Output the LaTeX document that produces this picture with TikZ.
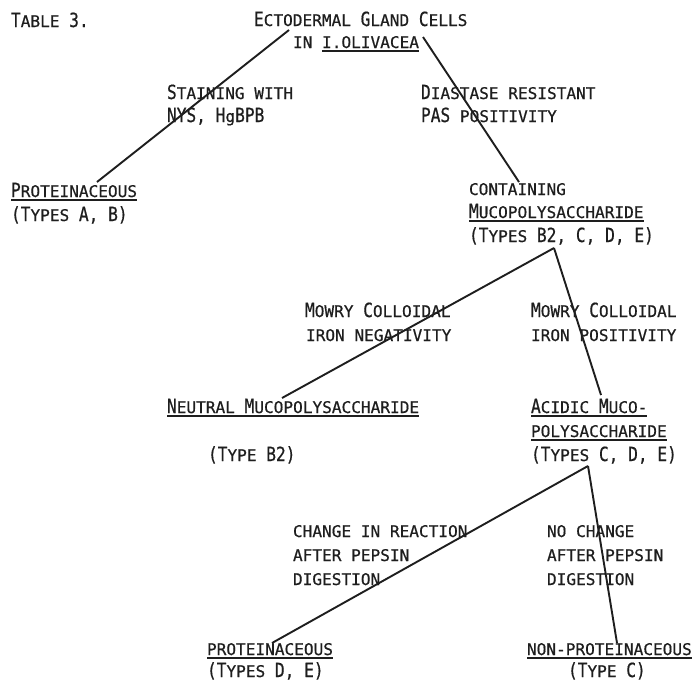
\documentclass[tikz,border=0pt]{standalone}
\usepackage{fontspec}
\newfontfamily\bigf[FakeStretch=0.83,FakeBold=0.6]{DejaVu Sans Mono}
\newfontfamily\smf[FakeStretch=1.0,FakeBold=0.6]{DejaVu Sans Mono}
\newcommand\B[1]{{\bigf\fontsize{19.5}{24}\selectfont #1}}
\newcommand\Sm{\smf\fontsize{16.1}{24}\selectfont}
\definecolor{ink}{HTML}{1E1E1E}
\begin{document}
\begin{tikzpicture}[x=1pt,y=-1pt,
  txt/.style={inner sep=0pt, outer sep=0pt, anchor=base west, font=\Sm, text=ink},
  link/.style={draw=ink, line width=1.9pt},
  ulline/.style={draw=ink, line width=1.1pt}]
\useasboundingbox[fill=white] (0,0) rectangle (692,683);
\newcommand\ulnode[1]{\draw[ulline] ([yshift=-3pt]#1.base west) -- ([yshift=-3pt]#1.base east);}

% connector end points
\coordinate (j1) at (289,30);  \coordinate (j1b) at (97,182);
\coordinate (j2) at (423,37);  \coordinate (j2b) at (519,182);
\coordinate (j3) at (554,248); \coordinate (j3l) at (282,398); \coordinate (j3r) at (601,395);
\coordinate (j4) at (588,466); \coordinate (j4l) at (272,643); \coordinate (j4r) at (617,643);

\draw[link] (j1) -- (j1b);
\draw[link] (j2) -- (j2b);
\draw[link] (j3) -- (j3l);
\draw[link] (j3) -- (j3r);
\draw[link] (j4) -- (j4l);
\draw[link] (j4) -- (j4r);

% texts
\node[txt] (tab) at (11,27) {\B{T}ABLE \B{3.}};
\node[txt] (root1) at (254,26) {\B{E}CTODERMAL \B{G}LAND \B{C}ELLS};
\node[txt] (root2) at (293,48) {IN I.OLIVACEA};
\draw[ulline] ([xshift=29.1pt,yshift=-3pt]root2.base west) -- ([yshift=-3pt]root2.base east);

\node[txt] (stA) at (167,99) {\B{S}TAINING WITH};
\node[txt] (stB) at (167,122) {\B{NYS, H}g\B{BPB}};
\node[txt] (diA) at (421,99) {\B{D}IASTASE RESISTANT};
\node[txt] (diB) at (421,122) {\B{PAS} POSITIVITY};

\node[txt] (prA) at (11,197) {\B{P}ROTEINACEOUS}; \ulnode{prA}
\node[txt] (prB) at (11,221) {\B{(T}YPES \B{A, B)}};

\node[txt] (coA) at (469,195) {CONTAINING};
\node[txt] (coB) at (469,218) {\B{M}UCOPOLYSACCHARIDE}; \ulnode{coB}
\node[txt] (coC) at (469,242) {\B{(T}YPES \B{B2, C, D, E)}};

\node[txt] (mnA) at (305,317) {\B{M}OWRY \B{C}OLLOIDAL};
\node[txt] (mnB) at (306,341) {IRON NEGATIVITY};
\node[txt] (mpA) at (531,317) {\B{M}OWRY \B{C}OLLOIDAL};
\node[txt] (mpB) at (531,341) {IRON POSITIVITY};

\node[txt] (neA) at (167,413) {\B{N}EUTRAL \B{M}UCOPOLYSACCHARIDE}; \ulnode{neA}
\node[txt] (neB) at (208,461) {\B{(T}YPE \B{B2)}};

\node[txt] (acA) at (531,413) {\B{A}CIDIC \B{M}UCO-}; \ulnode{acA}
\node[txt] (acB) at (531,437) {POLYSACCHARIDE}; \ulnode{acB}
\node[txt] (acC) at (531,461) {\B{(T}YPES \B{C, D, E)}};

\node[txt] (chA) at (293,537) {CHANGE IN REACTION};
\node[txt] (chB) at (293,561) {AFTER PEPSIN};
\node[txt] (chC) at (293,585) {DIGESTION};
\node[txt] (ncA) at (547,537) {NO CHANGE};
\node[txt] (ncB) at (547,561) {AFTER PEPSIN};
\node[txt] (ncC) at (547,585) {DIGESTION};

\node[txt] (pdA) at (207,655) {PROTEINACEOUS}; \ulnode{pdA}
\node[txt] (pdB) at (207,677) {\B{(T}YPES \B{D, E)}};
\node[txt] (npA) at (527,655) {NON-PROTEINACEOUS}; \ulnode{npA}
\node[txt] (npB) at (568,677) {\B{(T}YPE \B{C)}};
\end{tikzpicture}
\end{document}
